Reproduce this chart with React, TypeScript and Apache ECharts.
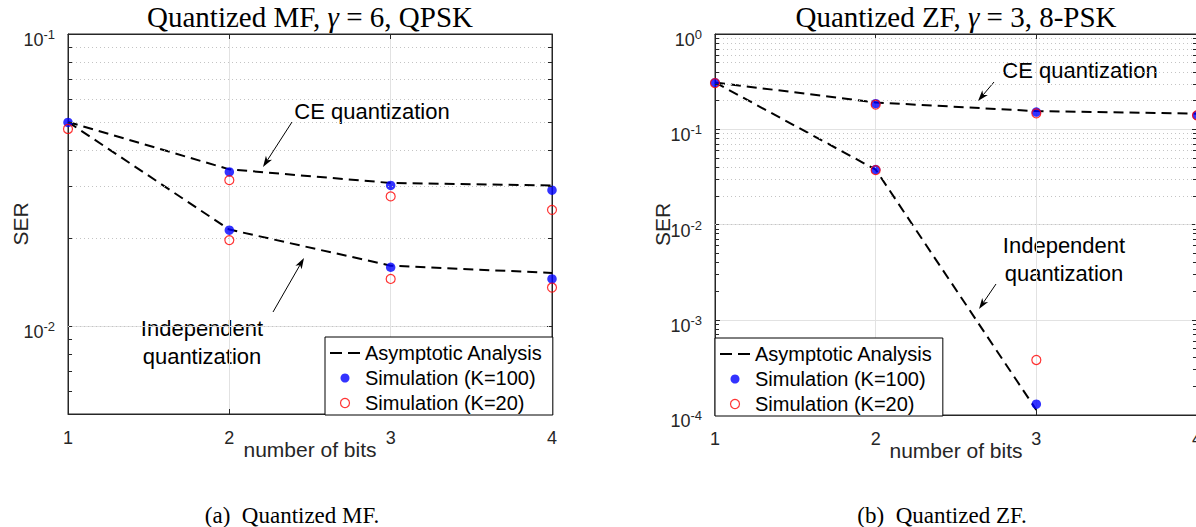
import React, { useEffect, useRef } from 'react';
import * as echarts from 'echarts';

// ---------- data ----------
const bits = [1, 2, 3, 4];

// (a) Quantized MF, gamma = 6, QPSK
const mfCeAnalysis = [0.05, 0.0344, 0.0309, 0.0303];
const mfIndAnalysis = [0.05, 0.0214, 0.0161, 0.0152];
const mfCeK100 = [0.0498, 0.0337, 0.0303, 0.0292];
const mfIndK100 = [null, 0.0213, 0.0159, 0.0145];
const mfCeK20 = [0.0473, 0.0316, 0.0278, 0.025];
const mfIndK20 = [null, 0.0197, 0.0145, 0.01355];

// (b) Quantized ZF, gamma = 3, 8-PSK
const zfCeAnalysis = [0.31, 0.191, 0.155, 0.1457];
const zfIndAnalysis = [0.31, 0.0377, 0.000113, null];
const zfCeK100 = [0.308, 0.1854, 0.1514, 0.14];
const zfIndK100 = [null, 0.0377, 0.00013, null];
const zfCeK20 = [0.305, 0.181, 0.1468, 0.14];
const zfIndK20 = [null, 0.0372, 0.000378, null];

// minor grid positions (log axes)
const mfMinor = [0.006, 0.007, 0.008, 0.009, 0.02, 0.03, 0.04, 0.05, 0.06, 0.07, 0.08, 0.09];
const zfMinor = [
  0.0002, 0.0003, 0.0004, 0.0005, 0.0006, 0.0007, 0.0008, 0.0009,
  0.002, 0.003, 0.004, 0.005, 0.006, 0.007, 0.008, 0.009,
  0.02, 0.03, 0.04, 0.05, 0.06, 0.07, 0.08, 0.09,
  0.2, 0.3, 0.4, 0.5, 0.6, 0.7, 0.8, 0.9,
];

const LEG_ANALYSIS = 'Asymptotic Analysis';
const LEG_K100 = 'Simulation (K=100)';
const LEG_K20 = 'Simulation (K=20)';

const SANS = '"Liberation Sans", Arial, Helvetica, sans-serif';
const SERIF = '"Liberation Serif", "Times New Roman", serif';
const AXIS_COLOR = '#262626';

const DASH_ICON =
  'path://M0,0h0.01v0.01h-0.01Z M30,9h-0.01v-0.01h0.01Z M0,3.5H12V5.5H0Z M18,3.5H30V5.5H18Z';

const pairs = (vals: (number | null)[]) =>
  bits.map((b, i) => [b, vals[i]]).filter((p) => p[1] !== null);

function arrow(x1: number, y1: number, x2: number, y2: number) {
  const a = Math.atan2(y2 - y1, x2 - x1);
  const c = Math.cos(a), s = Math.sin(a);
  const L = 11, W = 3.6, N = 8;
  return [
    { type: 'line', shape: { x1, y1, x2: x2 - N * c, y2: y2 - N * s }, style: { stroke: '#000', lineWidth: 1 } },
    {
      type: 'polygon',
      shape: {
        points: [
          [x2, y2],
          [x2 - L * c + W * s, y2 - L * s - W * c],
          [x2 - N * c, y2 - N * s],
          [x2 - L * c - W * s, y2 - L * s + W * c],
        ],
      },
      style: { fill: '#000' },
    },
  ];
}

function text(str: string, x: number, y: number, size: number, family = SANS, extra: any = {}) {
  return {
    type: 'text',
    x,
    y,
    style: { text: str, fill: '#000', fontSize: size, fontFamily: family, align: 'center', verticalAlign: 'middle', ...extra },
  };
}

function title(pre: string, g: string, post: string, x: number, y: number) {
  return {
    type: 'text',
    x,
    y,
    style: {
      text: `{r|${pre}}{g|${g}}{r|${post}}`,
      align: 'center',
      verticalAlign: 'middle',
      rich: {
        r: { fontSize: 29, fontFamily: SERIF, fill: '#000' },
        g: { fontSize: 29, fontFamily: SERIF, fontStyle: 'italic', fill: '#000' },
      },
    },
  };
}

const yLabel = {
  fontFamily: SANS,
  color: AXIS_COLOR,
  margin: 13,
  padding: [6, 0, 0, 0],
  formatter: (v: number) => {
    const l = Math.log10(v);
    const e = Math.round(l);
    if (Math.abs(l - e) > 1e-6) return '';
    return `{b|10}{s|${e}}`;
  },
  rich: {
    b: { fontSize: 18, lineHeight: 18, padding: [6, 0, 0, 0], fontFamily: SANS, color: AXIS_COLOR },
    s: { fontSize: 13, lineHeight: 13, verticalAlign: 'top', fontFamily: SANS, color: AXIS_COLOR },
  },
};

function xAxes(gridIndex: number) {
  return [
    {
      type: 'value',
      gridIndex,
      min: 1,
      max: 4,
      interval: 1,
      position: 'bottom',
      axisLine: { show: true, onZero: false, lineStyle: { color: AXIS_COLOR, width: 1 } },
      axisTick: { show: true, inside: true, length: 5, lineStyle: { color: AXIS_COLOR } },
      axisLabel: { fontSize: 18, margin: 15, color: AXIS_COLOR, fontFamily: SANS },
      splitLine: { show: true, lineStyle: { color: '#e2e2e2', width: 1 } },
      name: 'number of bits',
      nameLocation: 'middle',
      nameGap: 25,
      nameMoveOverlap: false,
      nameTextStyle: { fontSize: 21, color: AXIS_COLOR, fontFamily: SANS },
    },
    {
      type: 'value',
      gridIndex,
      min: 1,
      max: 4,
      interval: 1,
      position: 'top',
      axisLine: { show: true, onZero: false, lineStyle: { color: AXIS_COLOR, width: 1 } },
      axisTick: { show: true, inside: true, length: 5, lineStyle: { color: AXIS_COLOR } },
      axisLabel: { show: false },
      splitLine: { show: false },
    },
  ];
}

function yAxes(gridIndex: number, min: number, max: number, nameGap: number) {
  return [
    {
      type: 'log',
      logBase: 10,
      gridIndex,
      min,
      max,
      position: 'left',
      axisLine: { show: true, onZero: false, lineStyle: { color: AXIS_COLOR, width: 1 } },
      axisTick: { show: true, inside: true, length: 5, lineStyle: { color: AXIS_COLOR } },
      axisLabel: yLabel,
      splitLine: { show: true, lineStyle: { color: '#e2e2e2', width: 1 } },
      name: 'SER',
      nameLocation: 'middle',
      nameGap,
      nameRotate: 90,
      nameMoveOverlap: false,
      nameTextStyle: { fontSize: 21, color: AXIS_COLOR, fontFamily: SANS },
    },
    {
      type: 'log',
      logBase: 10,
      gridIndex,
      min,
      max,
      position: 'right',
      axisLine: { show: true, onZero: false, lineStyle: { color: AXIS_COLOR, width: 1 } },
      axisTick: { show: true, inside: true, length: 5, lineStyle: { color: AXIS_COLOR } },
      axisLabel: { show: false },
      splitLine: { show: false },
    },
  ];
}

function minorSeries(xi: number, yi: number, minor: number[]) {
  const data: any[] = [];
  minor.forEach((v) => data.push({ yAxis: v }));
  minor.forEach((v) => {
    data.push([
      { coord: [1, v], lineStyle: { type: 'solid', color: AXIS_COLOR, opacity: 1 } },
      { coord: [1.025, v] },
    ]);
    data.push([
      { coord: [3.975, v], lineStyle: { type: 'solid', color: AXIS_COLOR, opacity: 1 } },
      { coord: [4, v] },
    ]);
  });
  return {
    type: 'line',
    xAxisIndex: xi,
    yAxisIndex: yi,
    data: [],
    silent: true,
    z: 1,
    markLine: {
      silent: true,
      symbol: ['none', 'none'],
      label: { show: false },
      animation: false,
      lineStyle: { type: [1, 3], color: '#c4c4c4', width: 1 },
      data,
    },
  };
}

function plotSeries(xi: number, yi: number, ce: any[], ind: any[], ceK100: any[], indK100: any[], ceK20: any[], indK20: any[]) {
  const lineCommon = {
    type: 'line',
    xAxisIndex: xi,
    yAxisIndex: yi,
    name: LEG_ANALYSIS,
    symbol: 'none',
    lineStyle: { color: '#000', width: 2, type: [10, 6] },
    itemStyle: { color: '#000' },
    z: 3,
  };
  return [
    { ...lineCommon, data: pairs(ce) },
    { ...lineCommon, data: pairs(ind) },
    {
      type: 'scatter',
      xAxisIndex: xi,
      yAxisIndex: yi,
      name: LEG_K100,
      symbol: 'circle',
      symbolSize: 9.5,
      itemStyle: { color: '#0000ff' },
      data: [...pairs(ceK100), ...pairs(indK100)],
      z: 4,
    },
    {
      type: 'scatter',
      xAxisIndex: xi,
      yAxisIndex: yi,
      name: LEG_K20,
      symbol: 'circle',
      symbolSize: 9,
      itemStyle: { color: 'rgba(255,255,255,0)', borderColor: '#ff0000', borderWidth: 1.2 },
      data: [...pairs(ceK20), ...pairs(indK20)],
      z: 5,
    },
  ];
}

function legend(left: number, top: number) {
  return {
    data: [
      { name: LEG_ANALYSIS, icon: DASH_ICON, itemStyle: { color: '#000', borderWidth: 0, borderColor: 'transparent' } },
      { name: LEG_K100, icon: 'circle', itemStyle: { color: '#0000ff', borderWidth: 0 } },
      { name: LEG_K20, icon: 'circle', itemStyle: { color: 'rgba(255,255,255,0)', borderColor: '#ff0000', borderWidth: 1.2 } },
    ],
    orient: 'vertical',
    left,
    top,
    selectedMode: false,
    backgroundColor: '#fff',
    borderColor: '#000',
    borderWidth: 1,
    borderRadius: 0,
    padding: [6, 10, 2, 5],
    itemGap: 5,
    itemWidth: 30,
    itemHeight: 9,
    textStyle: { fontSize: 20, fontFamily: SANS, color: '#000' },
    z: 10,
  };
}

export default function App() {
  const ref = useRef<HTMLDivElement>(null);
  useEffect(() => {
    if (!ref.current) return;
    const chart = echarts.init(ref.current, undefined, { renderer: 'svg' });
    const option: any = {
      animation: false,
      backgroundColor: '#fff',
      grid: [
        { left: 68, top: 34, width: 484, height: 380, show: true, borderColor: AXIS_COLOR, borderWidth: 1, backgroundColor: 'transparent', outerBoundsMode: 'none' },
        { left: 715, top: 34, width: 482, height: 381, show: true, borderColor: AXIS_COLOR, borderWidth: 1, backgroundColor: 'transparent', outerBoundsMode: 'none' },
      ],
      xAxis: [...xAxes(0), ...xAxes(1)],
      yAxis: [...yAxes(0, 0.005, 0.1, 37), ...yAxes(1, 0.0001, 1, 42)],
      legend: [legend(325, 337), legend(715, 338)],
      series: [
        minorSeries(0, 0, mfMinor),
        minorSeries(2, 2, zfMinor),
        ...plotSeries(0, 0, mfCeAnalysis, mfIndAnalysis, mfCeK100, mfIndK100, mfCeK20, mfIndK20),
        ...plotSeries(2, 2, zfCeAnalysis, zfIndAnalysis, zfCeK100, zfIndK100, zfCeK20, zfIndK20),
      ],
      graphic: [
        title('Quantized MF, ', 'γ', ' = 6, QPSK', 310, 17),
        title('Quantized ZF, ', 'γ', ' = 3, 8-PSK', 956, 17),
        text('CE quantization', 372, 111, 22),
        text('Independent\nquantization', 202, 342, 22, SANS, { lineHeight: 28 }),
        text('CE quantization', 1080, 70, 22),
        text('Independent\nquantization', 1064, 259, 22, SANS, { lineHeight: 28 }),
        ...arrow(292, 122, 263, 167),
        ...arrow(273, 312, 304, 258),
        ...arrow(994, 82, 978, 101),
        ...arrow(996, 284, 979, 309),
        text('(a)\u2002Quantized MF.', 292, 515, 23, SERIF),
        text('(b)\u2002Quantized ZF.', 942, 515, 23, SERIF),
      ],
    };
    chart.setOption(option);
    return () => chart.dispose();
  }, []);
  return (
    <div
      ref={ref}
      style={{ position: 'fixed', left: 0, top: 0, width: 1196, height: 527, background: '#fff' }}
    />
  );
}
